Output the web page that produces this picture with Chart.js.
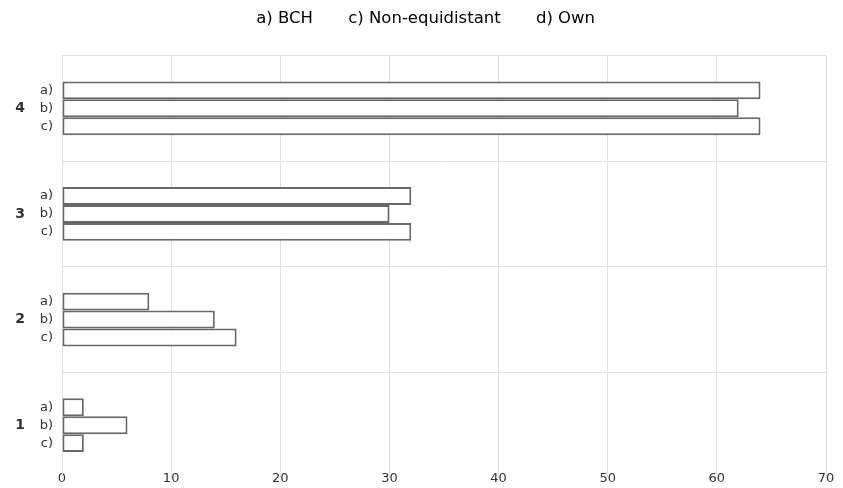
<!DOCTYPE html>
<html>
<head>
<meta charset="utf-8">
<script src="https://cdn.jsdelivr.net/npm/chart.js@4.4.1/dist/chart.umd.min.js"></script>
<style>
  html, body { margin: 0; padding: 0; background: #fff; }
  #wrap { width: 843px; height: 488px; }
</style>
</head>
<body>
<div id="wrap"><canvas id="chart"></canvas></div>
<script>
// data
const categories = ['4', '3', '2', '1'];
const barTags = ['a)', 'b)', 'c)'];
const seriesNames = ['a) BCH', 'c) Non-equidistant', 'd) Own'];
const seriesA = [64, 32, 8, 2];
const seriesB = [62, 30, 14, 6];
const seriesC = [64, 32, 16, 2];
const xTicks = [0, 10, 20, 30, 40, 50, 60, 70];

const fontFamily = '"DejaVu Sans", sans-serif';
const gridColor = '#e0e0e0';
const barBorder = '#686868';
const textColor = '#333';

// writes a) b) c) next to each bar, left of the axis
const barTagPlugin = {
  id: 'barTags',
  afterDatasetsDraw(chart) {
    const ctx = chart.ctx;
    const left = chart.chartArea.left;
    ctx.save();
    ctx.font = '13px ' + fontFamily;
    ctx.fillStyle = textColor;
    ctx.textAlign = 'right';
    ctx.textBaseline = 'middle';
    chart.data.datasets.forEach((ds, i) => {
      chart.getDatasetMeta(i).data.forEach(bar => {
        ctx.fillText(barTags[i], left - 9, bar.y);
      });
    });
    ctx.restore();
  }
};

// a bit more room under the legend
const legendGap = {
  id: 'legendGap',
  beforeInit(chart) {
    const fit = chart.legend.fit;
    chart.legend.fit = function () {
      fit.bind(chart.legend)();
      this.height += 19;
    };
  }
};

const series = [seriesA, seriesB, seriesC];

new Chart(document.getElementById('chart'), {
  type: 'bar',
  data: {
    labels: categories,
    datasets: series.map((vals, i) => ({
      label: seriesNames[i],
      data: vals,
      backgroundColor: '#ffffff',
      borderColor: barBorder,
      borderWidth: 2,
      borderSkipped: false,
      barPercentage: 1.0,
      categoryPercentage: 0.51
    }))
  },
  options: {
    indexAxis: 'y',
    responsive: true,
    maintainAspectRatio: false,
    animation: false,
    layout: { padding: { left: 0, right: 17, top: 0, bottom: 10 } },
    plugins: {
      tooltip: { enabled: false },
      legend: {
        position: 'top',
        labels: {
          boxWidth: 17,
          boxHeight: 0,
          padding: 10,
          color: textColor,
          font: { family: fontFamily, size: 16.5 },
          generateLabels(chart) {
            return chart.data.datasets.map((ds, i) => ({
              text: ds.label,
              fillStyle: 'rgba(0,0,0,0)',
              strokeStyle: 'rgba(0,0,0,0)',
              lineWidth: 0,
              datasetIndex: i
            }));
          }
        }
      }
    },
    scales: {
      x: {
        min: 0,
        max: 70,
        afterBuildTicks(axis) {
          axis.ticks = xTicks.map(v => ({ value: v }));
        },
        afterFit(axis) {
          axis.height = 0;
        },
        grid: { color: gridColor, lineWidth: 1, drawTicks: false },
        border: { display: false },
        ticks: {
          mirror: true,
          padding: -8,
          color: textColor,
          font: { family: fontFamily, size: 13 }
        }
      },
      y: {
        afterFit(axis) {
          axis.width = 62;
          axis.paddingTop = 0;
          axis.paddingBottom = 0;
        },
        grid: {
          offset: true,
          color: ctx => (ctx.type === 'tick' ? gridColor : 'rgba(0,0,0,0)'),
          lineWidth: 1,
          drawTicks: false
        },
        border: { color: gridColor },
        ticks: {
          padding: 37,
          color: textColor,
          font: { family: fontFamily, size: 14, weight: 'bold' }
        }
      }
    }
  },
  plugins: [barTagPlugin, legendGap]
});
</script>
</body>
</html>
